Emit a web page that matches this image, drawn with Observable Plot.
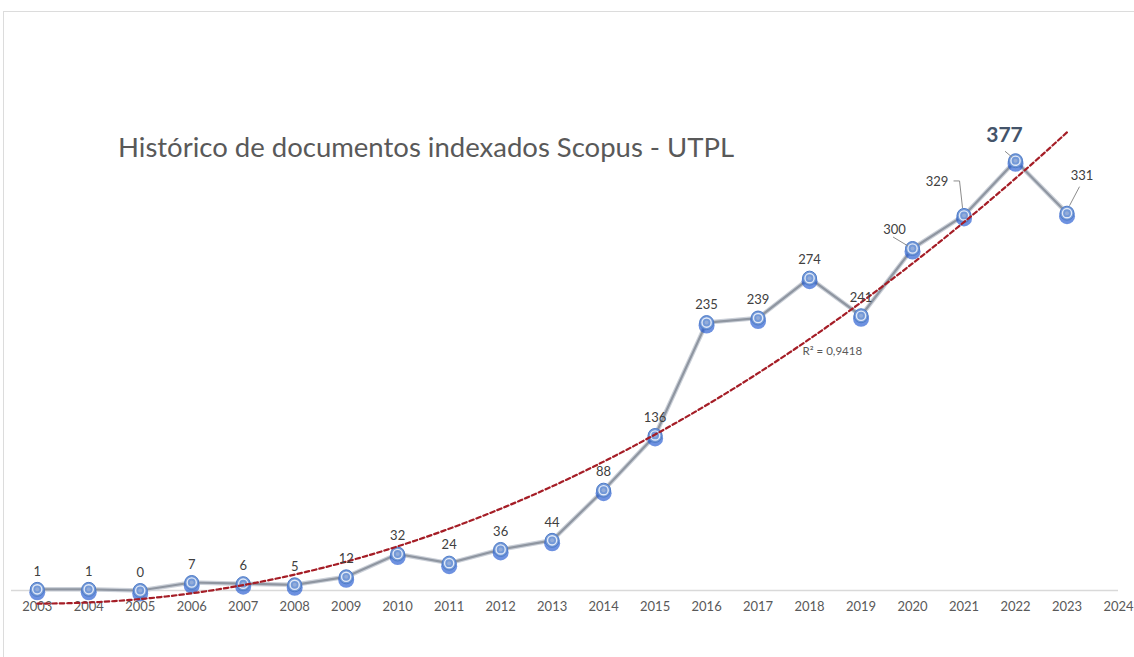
<!DOCTYPE html>
<html><head><meta charset="utf-8">
<script src="https://cdn.jsdelivr.net/npm/d3@7"></script>
<script src="https://cdn.jsdelivr.net/npm/@observablehq/plot@0.6"></script>
<style>
body{margin:0;background:#fff;}
#wrap{position:relative;width:1134px;height:657px;overflow:hidden;font-family:Lato,"Open Sans",sans-serif;}
#frame{position:absolute;left:3px;top:11px;width:1200px;height:700px;border-left:1px solid #dcdcdc;border-top:1px solid #dcdcdc;}
#chart{position:absolute;left:0;top:0;}
#title{position:absolute;left:118px;top:130px;font-size:27.5px;color:#595959;white-space:nowrap;}
</style></head><body>
<div id="wrap"><div id="frame"></div><div id="chart"></div><div id="title">Histórico de documentos indexados Scopus - UTPL</div></div>
<script>
// ---- data ----
const years = [2003,2004,2005,2006,2007,2008,2009,2010,2011,2012,2013,2014,2015,2016,2017,2018,2019,2020,2021,2022,2023];
const documents = [1,1,0,7,6,5,12,32,24,36,44,88,136,235,239,274,241,300,329,377,331];
const tickYears = [2003,2004,2005,2006,2007,2008,2009,2010,2011,2012,2013,2014,2015,2016,2017,2018,2019,2020,2021,2022,2023,2024];
const trendLabel = "R² = 0,9418";
const labelYear = 2018;

const data = years.map((year, i) => ({year, value: documents[i]}));

// ---- polynomial (order 2) trendline, least squares on the data ----
function quadFit(xs, ys) {
  const S = [0,0,0,0,0], T = [0,0,0];
  xs.forEach((x, i) => {
    for (let k = 0; k < 5; k++) S[k] += Math.pow(x, k);
    for (let k = 0; k < 3; k++) T[k] += Math.pow(x, k) * ys[i];
  });
  const A = [[S[0],S[1],S[2],T[0]],[S[1],S[2],S[3],T[1]],[S[2],S[3],S[4],T[2]]];
  for (let c = 0; c < 3; c++) {
    for (let r = c + 1; r < 3; r++) {
      const f = A[r][c] / A[c][c];
      for (let k = c; k < 4; k++) A[r][k] -= f * A[c][k];
    }
  }
  const b = [0,0,0];
  for (let r = 2; r >= 0; r--) {
    let s = A[r][3];
    for (let k = r + 1; k < 3; k++) s -= A[r][k] * b[k];
    b[r] = s / A[r][r];
  }
  return t => b[0] + b[1] * t + b[2] * t * t;
}
const t0 = years[0];
const fit = quadFit(years.map(y => y - t0), documents);
const trend = d3.range(years[0], years[years.length - 1] + 0.001, 0.1).map(y => ({year: y, value: fit(y - t0)}));

const special = new Set([2020, 2021, 2022, 2023]);
const labelFont = {fontSize: 13, fill: "#404040", fontFamily: "Lato"};

const plot = Plot.plot({
  width: 1134,
  height: 657,
  marginLeft: 11,
  marginRight: 16,
  marginTop: 134,
  marginBottom: 67,
  style: {fontFamily: "Lato", fontSize: "13px", color: "#595959", background: "transparent"},
  x: {domain: [2002.5, 2024], ticks: tickYears, tickFormat: d => String(d), tickSize: 0, tickPadding: 11, label: null},
  y: {domain: [0, 400], axis: null},
  marks: [
    Plot.ruleY([0], {stroke: "#d9d9d9", strokeWidth: 1.5}),
    Plot.line(data, {x: "year", y: "value", stroke: "#3c6fd0", strokeWidth: 7, strokeOpacity: 0.3, dy: 3, ariaLabel: "glow"}),
    Plot.line(data, {x: "year", y: "value", stroke: "#ccd1d9", strokeWidth: 4.5}),
    Plot.line(data, {x: "year", y: "value", stroke: "#8f96a1", strokeWidth: 2.2}),
    Plot.dot(data, {x: "year", y: "value", r: 8, fill: "#1f56d0", fillOpacity: 0.65, dy: 3, ariaLabel: "glowdot"}),
    Plot.dot(data, {x: "year", y: "value", r: 7, fill: "#7399d8", stroke: "#4f7cc8", strokeWidth: 1}),
    Plot.dot(data, {x: "year", y: "value", r: 4.6, fill: "none", stroke: "#e2eaf7", strokeWidth: 1.4}),
    Plot.dot(data, {x: "year", y: "value", r: 2, fill: "#93acd9"}),
    Plot.line(trend, {x: "year", y: "value", stroke: "#a51d26", strokeWidth: 2.2, strokeDasharray: "4.5,3"}),
    Plot.text(data.filter(d => !special.has(d.year)), {x: "year", y: "value", text: d => String(d.value), dy: -18, ...labelFont}),
    Plot.text(data.filter(d => d.year === 2020), {x: "year", y: "value", text: d => String(d.value), dx: -18, dy: -19, ...labelFont}),
    Plot.text(data.filter(d => d.year === 2021), {x: "year", y: "value", text: d => String(d.value), dx: -27, dy: -34, ...labelFont}),
    Plot.text(data.filter(d => d.year === 2022), {x: "year", y: "value", text: d => String(d.value), dx: -11, dy: -25, fontSize: 21, fontWeight: "bold", fill: "#44546a", fontFamily: "Lato"}),
    Plot.text(data.filter(d => d.year === 2023), {x: "year", y: "value", text: d => String(d.value), dx: 15, dy: -37, ...labelFont}),
    Plot.text([labelYear], {x: d => d + 0.5, y: d => fit(d + 0.5 - t0), text: () => trendLabel, dx: -3, dy: 30, fontSize: 11.5, fill: "#595959", fontFamily: "Lato"})
  ]
});

document.getElementById("chart").appendChild(plot);

// blur filter for the glow under line and markers
const svg = d3.select(plot);
const defs = svg.insert("defs", ":first-child");
defs.append("filter").attr("id", "blur").attr("x", "-20%").attr("y", "-20%").attr("width", "140%").attr("height", "140%")
  .append("feGaussianBlur").attr("stdDeviation", 2.5);
svg.selectAll('[aria-label="glow"], [aria-label="glowdot"]').attr("filter", "url(#blur)");

// leader lines for the offset labels, from the library's scales
const sx = plot.scale("x"), sy = plot.scale("y");
const leaders = [
  {year: 2020, path: (px, py) => [[px - 19, py - 11], [px - 4, py - 2]]},
  {year: 2021, path: (px, py) => [[px - 10, py - 34], [px - 4, py - 34], [px - 1, py - 7]]},
  {year: 2022, path: (px, py) => [[px - 10, py - 9], [px - 3, py - 3]]},
  {year: 2023, path: (px, py) => [[px + 13, py - 26], [px + 3, py - 7]]}
];
const g = svg.append("g");
leaders.forEach(l => {
  const d = data.find(e => e.year === l.year);
  const px = sx.apply(d.year), py = sy.apply(d.value);
  g.append("path").attr("d", d3.line()(l.path(px, py))).attr("fill", "none").attr("stroke", "#8c8c8c").attr("stroke-width", 1);
});
</script>
</body></html>
